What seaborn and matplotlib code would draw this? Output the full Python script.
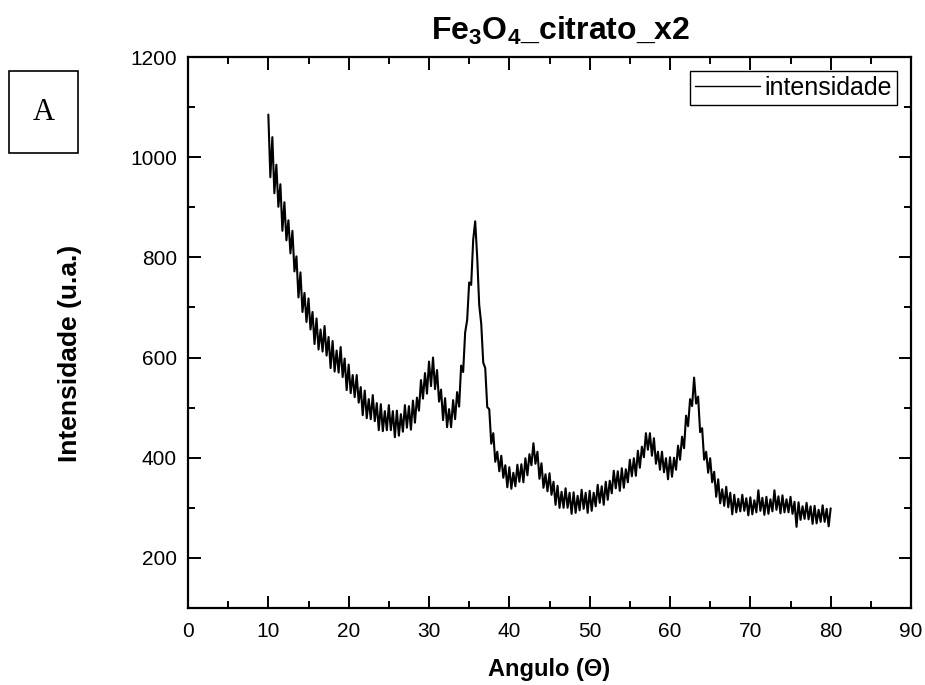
import numpy as np
import pandas as pd
import matplotlib
matplotlib.use("Agg")
import matplotlib.pyplot as plt
from matplotlib.patches import Rectangle
import seaborn as sns

# ---- data (2-theta scan, 0.25 deg sampling) ----
angle_start = 10.0
angle_stop = 80.0
intensity = [
    1085, 960, 1040, 928,   # 10
    985, 901, 946, 853,     # 11
    910, 834, 874, 808,     # 12
    853, 772, 802, 720,     # 13
    770, 691, 729, 671,     # 14
    718, 656, 691, 627,     # 15
    678, 616, 656, 612,     # 16
    663, 604, 641, 579,     # 17
    633, 572, 614, 570,     # 18
    621, 561, 598, 535,     # 19
    586, 529, 565, 521,     # 20
    565, 510, 541, 485,     # 21
    534, 479, 517, 477,     # 22
    525, 473, 509, 455,     # 23
    507, 453, 493, 455,     # 24
    505, 455, 493, 441,     # 25
    494, 444, 487, 452,     # 26
    505, 460, 503, 456,     # 27
    514, 470, 520, 494,     # 28
    555, 518, 569, 528,     # 29
    592, 543, 600, 537,     # 30
    575, 512, 536, 475,     # 31
    519, 461, 497, 461,     # 32
    515, 477, 531, 502,     # 33
    584, 571, 650, 675,     # 34
    750, 745, 835, 872,     # 35
    800, 705, 668, 590,     # 36
    579, 501, 497, 428,     # 37
    449, 392, 412, 373,     # 38
    404, 360, 385, 341,     # 39
    381, 338, 370, 343,     # 40
    386, 352, 387, 351,     # 41
    399, 365, 407, 385,     # 42
    429, 388, 412, 358,     # 43
    389, 340, 367, 333,     # 44
    369, 326, 352, 306,     # 45
    344, 300, 332, 300,     # 46
    339, 300, 330, 288,     # 47
    331, 290, 324, 295,     # 48
    336, 298, 330, 290,     # 49
    334, 294, 330, 303,     # 50
    346, 310, 343, 306,     # 51
    352, 316, 354, 329,     # 52
    374, 339, 373, 334,     # 53
    379, 340, 377, 351,     # 54
    396, 363, 399, 364,     # 55
    414, 380, 422, 401,     # 56
    449, 416, 449, 404,     # 57
    439, 388, 412, 376,     # 58
    412, 371, 399, 357,     # 59
    401, 362, 400, 376,     # 60
    424, 396, 442, 419,     # 61
    484, 463, 517, 503,     # 62
    560, 508, 522, 451,     # 63
    459, 396, 412, 370,     # 64
    399, 351, 372, 322,     # 65
    357, 309, 337, 304,     # 66
    342, 301, 330, 287,     # 67
    326, 291, 318, 293,     # 68
    326, 294, 319, 285,     # 69
    321, 287, 315, 291,     # 70
    335, 294, 320, 286,     # 71
    322, 288, 317, 293,     # 72
    335, 296, 323, 289,     # 73
    325, 291, 317, 291,     # 74
    322, 288, 312, 262,     # 75
    311, 276, 303, 278,     # 76
    310, 277, 303, 268,     # 77
    304, 269, 296, 272,     # 78
    305, 272, 298, 263,     # 79
    299,                    # 80
]
angle = np.linspace(angle_start, angle_stop, len(intensity))

series_label = "intensidade"
title_text = r"Fe$_{\mathbf{3}}$O$_{\mathbf{4}}$_citrato_x2"
xlabel_text = "Angulo (\u0398)"
ylabel_text = "Intensidade (u.a.)"
x_ticks = [0, 10, 20, 30, 40, 50, 60, 70, 80, 90]
y_ticks = [200, 400, 600, 800, 1000, 1200]

df = pd.DataFrame({"angle": angle, "intensity": intensity})

# ---- style ----
sns.set_theme(style="white")
plt.rcParams["font.family"] = ["Liberation Sans", "DejaVu Sans"]
plt.rcParams["text.color"] = "black"
plt.rcParams["axes.labelcolor"] = "black"
plt.rcParams["xtick.color"] = "black"
plt.rcParams["ytick.color"] = "black"
plt.rcParams["mathtext.fontset"] = "custom"
plt.rcParams["mathtext.rm"] = "Liberation Sans:bold"
plt.rcParams["mathtext.bf"] = "Liberation Sans:bold"
plt.rcParams["mathtext.it"] = "Liberation Sans:bold"

fig = plt.figure(figsize=(9.25, 6.85), dpi=100)
ax = fig.add_axes([188 / 925, 1 - 608 / 685, (911 - 188) / 925, (608 - 57) / 685])

sns.lineplot(data=df, x="angle", y="intensity", ax=ax, color="black",
             linewidth=1.5, estimator=None, sort=False, label=series_label)

ax.set_xlim(0, 90)
ax.set_ylim(100, 1200)
ax.set_xticks(x_ticks)
ax.set_yticks(y_ticks)
ax.set_xticks(np.arange(5, 90, 10), minor=True)
ax.set_yticks([100, 300, 500, 700, 900, 1100], minor=True)

for s in ax.spines.values():
    s.set_visible(True)
    s.set_color("black")
    s.set_linewidth(1.6)

ax.tick_params(which="both", direction="in", top=True, right=True,
               bottom=True, left=True, colors="black", width=1.4,
               labelsize=15, labelcolor="black")
ax.tick_params(which="major", length=9)
ax.tick_params(which="minor", length=5)
ax.tick_params(axis="x", which="both", pad=10)
ax.tick_params(axis="y", which="both", pad=8)

ax.set_xlabel(xlabel_text, fontsize=17, fontweight="bold", labelpad=12,
              color="black")
ax.set_ylabel(ylabel_text, fontsize=19, fontweight="bold", color="black")
ax.yaxis.set_label_coords(-0.147, 0.463)
ax.set_title(title_text, fontsize=23, fontweight="bold", pad=12,
             color="black", x=0.515)
ax.grid(False)

leg = ax.legend(loc="upper right", fontsize=18, frameon=True, fancybox=False,
                edgecolor="black", borderaxespad=0.55, handlelength=2.6,
                handletextpad=0.2, borderpad=0.2)
leg.get_frame().set_linewidth(1.0)
leg.get_frame().set_alpha(1)
for line in leg.get_lines():
    line.set_linewidth(1.0)
for t in leg.get_texts():
    t.set_color("black")

# "A" panel label box
fig.patches.append(Rectangle((9 / 925, 1 - 153 / 685), 69 / 925, 82 / 685,
                             transform=fig.transFigure, fill=False,
                             edgecolor="black", linewidth=1.2))
fig.text(43.5 / 925, 1 - 112 / 685, "A", ha="center", va="center",
         fontsize=22, family=["Liberation Serif", "DejaVu Serif"])

fig.savefig("out.png", dpi=100)
